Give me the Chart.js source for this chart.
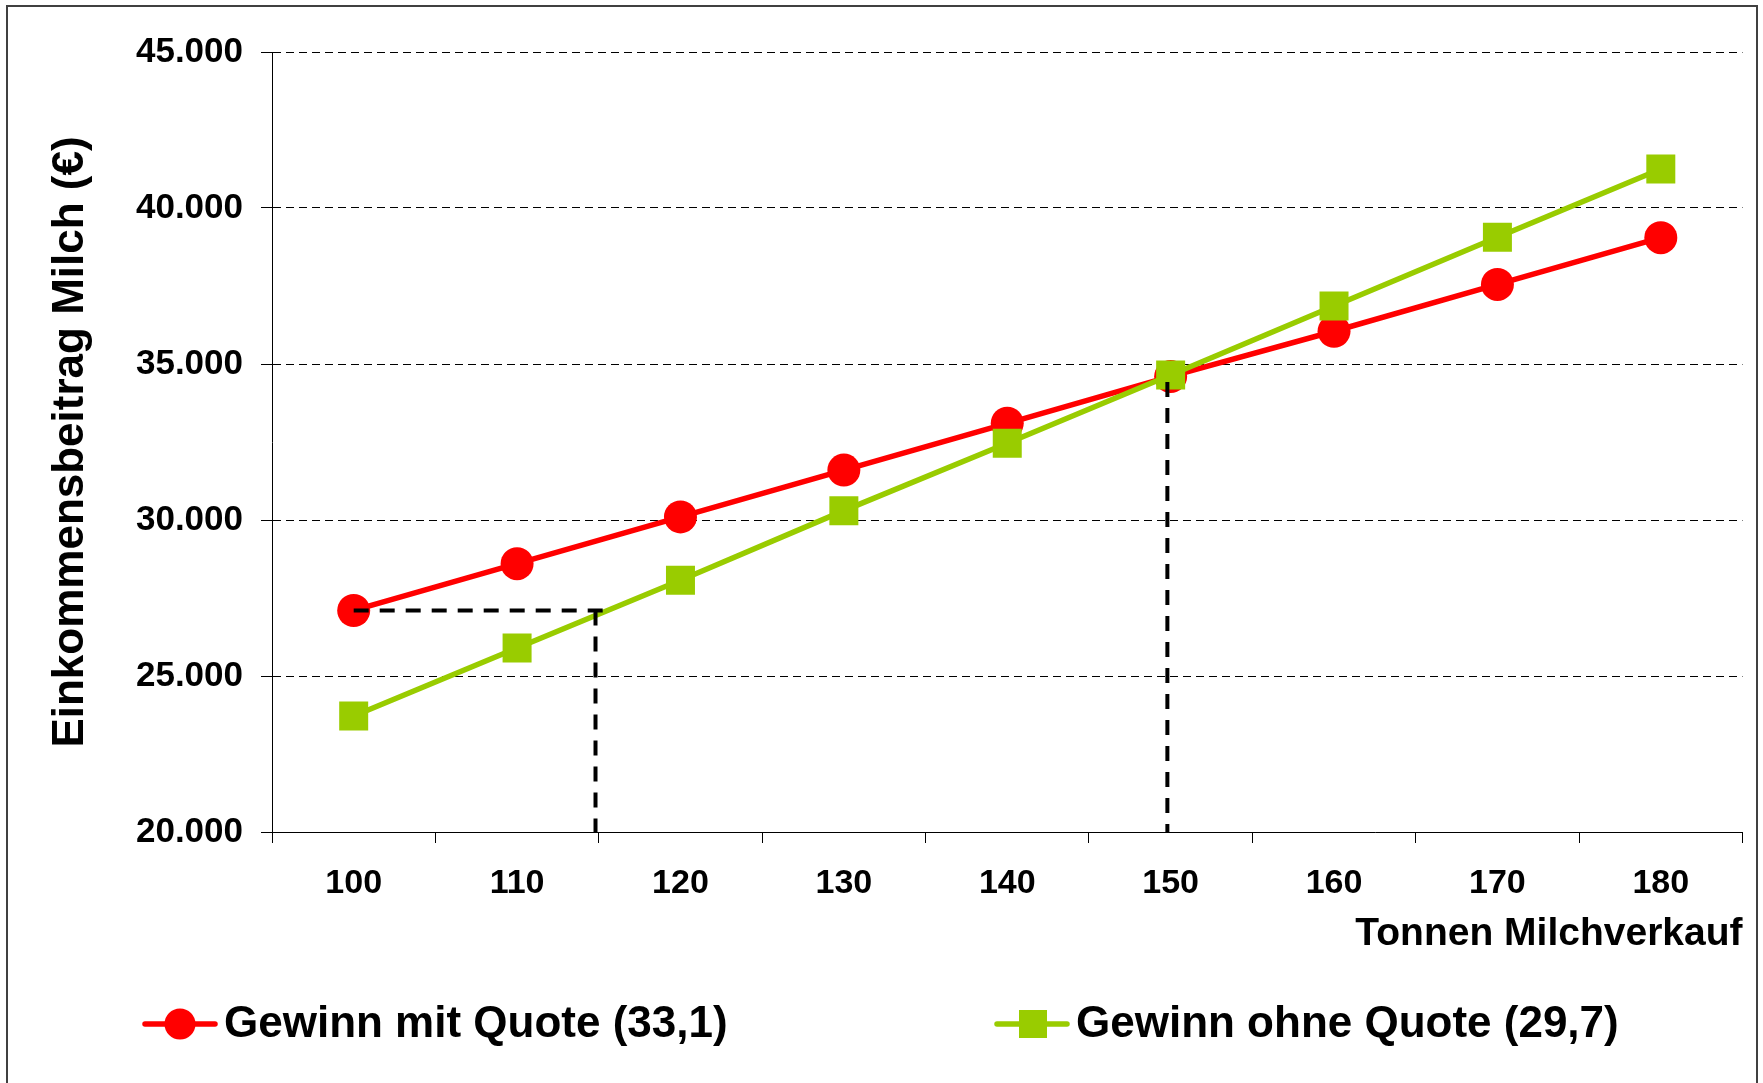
<!DOCTYPE html>
<html>
<head>
<meta charset="utf-8">
<script src="https://cdn.jsdelivr.net/npm/chart.js@4/dist/chart.umd.min.js"></script>
<style>
	html, body { margin: 0; padding: 0; background: #fff; }
	#chart { display: block; }
</style>
</head>
<body>
<canvas id="chart" width="1763" height="1083"></canvas>
<script>
// Data
const tonnen = [100, 110, 120, 130, 140, 150, 160, 170, 180];
const gewinnMitQuote = [27100, 28600, 30100, 31600, 33100, 34600, 36050, 37550, 39050];
const gewinnOhneQuote = [23720, 25900, 28070, 30300, 32460, 34650, 36860, 39060, 41250];
const seriesLabels = ['Gewinn mit Quote (33,1)', 'Gewinn ohne Quote (29,7)'];

// Dashed helper lines (x in tonnes, y in euro)
const quoteLevelX = [100, 115.3];
const quoteLevelY = [27100, 27100];
const quoteDropX = [114.8, 114.8];
const quoteDropY = [27100, 20000];
const breakEvenX = [149.8, 149.8];
const breakEvenY = [34420, 20000];

const yTicks = [20000, 25000, 30000, 35000, 40000, 45000];
const xTitle = 'Tonnen Milchverkauf';
const yTitle = 'Einkommensbeitrag Milch (€)';

// Constants
const FONT = '"Liberation Sans", Arial, Helvetica, sans-serif';
const RED = '#ff0000';
const GREEN = '#99cc00';

// Functions
// Zip two arrays into chart points
function toPoints(xs, ys) {
	return xs.map((x, i) => ({ x: x, y: ys[i] }));
}

// German thousands separator: 45000 -> 45.000
function formatEuro(v) {
	return String(v).replace(/\B(?=(\d{3})+(?!\d))/g, '.');
}

function dashedLine(xs, ys) {
	return {
		data: toPoints(xs, ys),
		borderColor: '#000',
		borderWidth: 4,
		borderDash: [15, 11],
		pointRadius: 0,
		fill: false,
		order: 0,
		isHelper: true
	};
}

// Page frame and white background
const framePlugin = {
	id: 'frame',
	beforeDraw(chart) {
		const ctx = chart.ctx;
		ctx.save();
		ctx.fillStyle = '#fff';
		ctx.fillRect(0, 0, chart.width, chart.height);
		ctx.strokeStyle = '#404040';
		ctx.lineWidth = 2;
		ctx.strokeRect(7, 6, 1750, 1100);
		ctx.restore();
	}
};

// Excel-like legend: line segment with marker, then label
const legendPlugin = {
	id: 'lineLegend',
	afterDraw(chart) {
		const ctx = chart.ctx;
		const y = 1024;
		const starts = [145, 997];
		const series = chart.data.datasets.filter(d => !d.isHelper)
			.sort((a, b) => a.legendIndex - b.legendIndex);
		ctx.save();
		ctx.font = 'bold 44px ' + FONT;
		ctx.textBaseline = 'middle';
		ctx.textAlign = 'left';
		series.forEach((ds, i) => {
			const x0 = starts[i];
			ctx.strokeStyle = ds.borderColor;
			ctx.lineWidth = 5.5;
			ctx.lineCap = 'round';
			ctx.beginPath();
			ctx.moveTo(x0, y);
			ctx.lineTo(x0 + 70, y);
			ctx.stroke();
			ctx.fillStyle = ds.pointBackgroundColor;
			if(ds.pointStyle === 'rect') {
				ctx.fillRect(x0 + 36 - 14, y - 14, 28, 28);
			} else {
				ctx.beginPath();
				ctx.arc(x0 + 35, y, 15.5, 0, Math.PI * 2);
				ctx.fill();
			}
			ctx.fillStyle = '#000';
			ctx.fillText(ds.label, x0 + 79, y + 1);
		});
		ctx.restore();
	}
};

// Initialize
window.onload = function() {
	const ctx = document.getElementById('chart').getContext('2d');

	new Chart(ctx, {
		type: 'line',
		data: {
			datasets: [
				dashedLine(quoteLevelX, quoteLevelY),
				dashedLine(quoteDropX, quoteDropY),
				dashedLine(breakEvenX, breakEvenY),
				{
					label: seriesLabels[1],
					data: toPoints(tonnen, gewinnOhneQuote),
					borderColor: GREEN,
					borderWidth: 5.5,
					pointStyle: 'rect',
					pointRadius: 20.5,
					pointBorderWidth: 0,
					pointBackgroundColor: GREEN,
					pointBorderColor: GREEN,
					order: 1,
					legendIndex: 1
				},
				{
					label: seriesLabels[0],
					data: toPoints(tonnen, gewinnMitQuote),
					borderColor: RED,
					borderWidth: 5.5,
					pointStyle: 'circle',
					pointRadius: 16.5,
					pointBorderWidth: 0,
					pointBackgroundColor: RED,
					pointBorderColor: RED,
					order: 2,
					legendIndex: 0
				}
			]
		},
		options: {
			responsive: false,
			devicePixelRatio: 1,
			animation: false,
			events: [],
			layout: { padding: { left: 0, top: 52, right: 15, bottom: 111 } },
			elements: { line: { tension: 0 } },
			plugins: {
				legend: { display: false },
				tooltip: { enabled: false }
			},
			scales: {
				x: {
					type: 'linear',
					min: 95,
					max: 185,
					afterFit: (scale) => { scale.height = 140; },
					ticks: {
						stepSize: 5,
						autoSkip: false,
						maxRotation: 0,
						padding: 20,
						color: '#000',
						font: { family: FONT, size: 34, weight: 'bold' },
						callback: (v) => (tonnen.includes(v) ? String(v) : '')
					},
					grid: {
						drawOnChartArea: false,
						drawTicks: true,
						tickLength: 11,
						color: '#000',
						lineWidth: 1,
						tickColor: (c) => (c.tick && c.tick.value % 10 === 5 ? '#000' : 'rgba(0,0,0,0)')
					},
					border: { display: true, color: '#000', width: 1 },
					title: {
						display: true,
						text: xTitle,
						align: 'end',
						color: '#000',
						font: { family: FONT, size: 39, weight: 'bold' },
						padding: { top: 0, bottom: 14 }
					}
				},
				y: {
					min: 20000,
					max: 45000,
					afterFit: (scale) => { scale.width = 272; },
					afterBuildTicks: (scale) => { scale.ticks = yTicks.map(v => ({ value: v })); },
					ticks: {
						padding: 18,
						color: '#000',
						font: { family: FONT, size: 35, weight: 'bold' },
						callback: (v) => formatEuro(v)
					},
					grid: {
						color: '#000',
						lineWidth: 1,
						tickLength: 11,
						tickColor: '#000'
					},
					border: { display: true, color: '#000', width: 1, dash: [8, 5] },
					title: {
						display: true,
						text: yTitle,
						color: '#000',
						font: { family: FONT, size: 44, weight: 'bold' },
						padding: { top: 44, bottom: 0 }
					}
				}
			}
		},
		plugins: [framePlugin, legendPlugin]
	});
};
</script>
</body>
</html>
